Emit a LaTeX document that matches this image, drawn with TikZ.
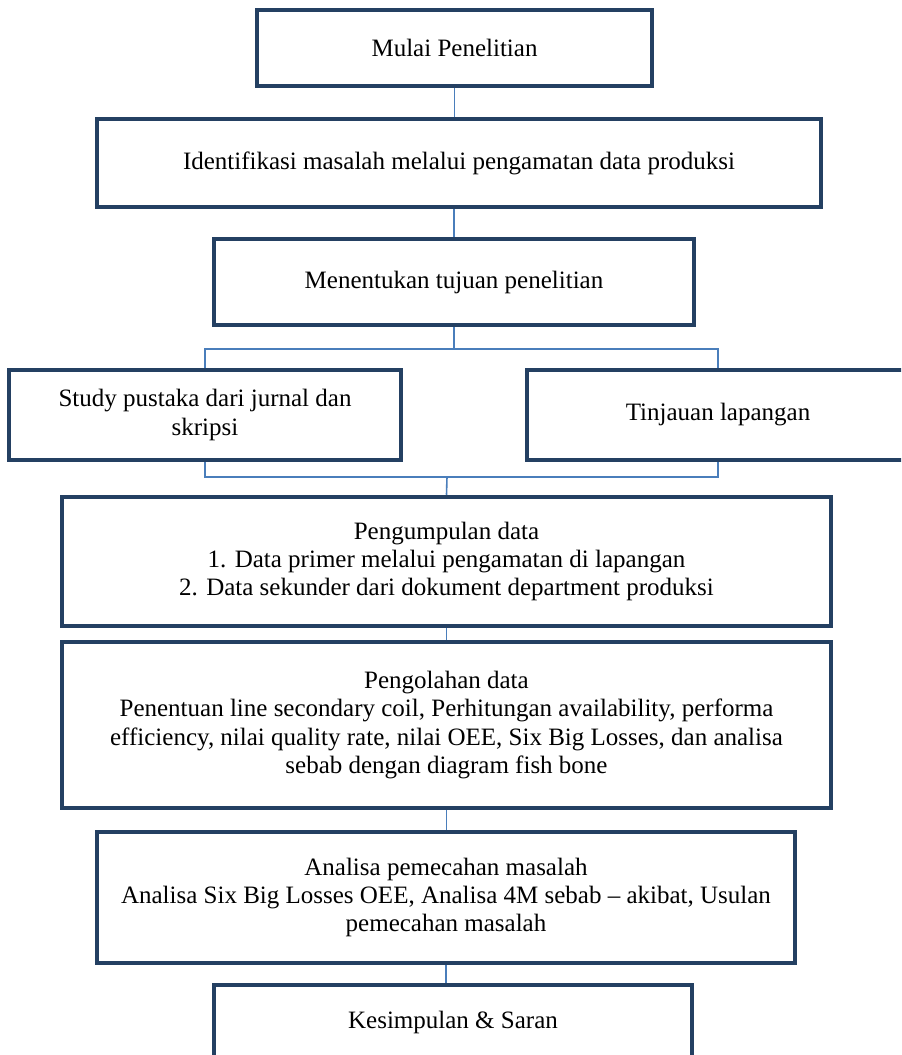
\documentclass[tikz,border=0pt]{standalone}
\usepackage{fontspec}
\setmainfont{Liberation Serif}
\usetikzlibrary{positioning}
\definecolor{boxline}{RGB}{36,64,98}
\definecolor{linkline}{RGB}{74,126,187}

\begin{document}
\begin{tikzpicture}[x=0.5pt,y=-0.5pt,
  main box/.style={rectangle,draw=boxline,line width=2.25pt,fill=white,align=center,
    inner sep=2pt,font=\fontsize{12.5pt}{14.2pt}\selectfont},
  link/.style={draw=linkline,line width=0.8pt}]
  \clip (0,0) rectangle (901,1055);
  \fill[white] (0,0) rectangle (901,1055);
  \node[main box,minimum width=197.5pt,minimum height=38pt] (mulai) at (454.5,48) {Mulai Penelitian};
  \node[main box,minimum width=362pt,minimum height=44pt] (ident) at (459,163) {Identifikasi masalah melalui pengamatan data produksi};
  \node[main box,minimum width=240pt,minimum height=43pt] (tujuan) at (454,282) {Menentukan tujuan penelitian};
  \node[main box,minimum width=196pt,minimum height=45pt] (study) at (205,415) {Study pustaka dari jurnal dan\\skripsi};
  \node[main box,minimum width=191pt,minimum height=45pt] (tinjau) at (718,415) {Tinjauan lapangan};
  \node[main box,minimum width=384.5pt,minimum height=64.5pt] (kumpul) at (446.5,561.5) {Pengumpulan data\\1. Data primer melalui pengamatan di lapangan\\2. Data sekunder dari dokument department produksi};
  \node[main box,minimum width=384.5pt,minimum height=83pt] (olah) at (446.5,725) {Pengolahan data\\Penentuan line secondary coil, Perhitungan availability, performa\\efficiency, nilai quality rate, nilai OEE, Six Big Losses, dan analisa\\sebab dengan diagram fish bone};
  \node[main box,minimum width=349pt,minimum height=65.5pt] (analisa) at (446,897.5) {Analisa pemecahan masalah\\Analisa Six Big Losses OEE, Analisa 4M sebab -- akibat, Usulan\\pemecahan masalah};
  \node[main box,minimum width=239pt,minimum height=37pt] (simpul) at (453,1022) {Kesimpulan \& Saran};
  \coordinate (split) at (454,349);
  \coordinate (merge) at (447,477);
  % connectors
  \draw[link] (mulai.south) -- (mulai.south |- ident.north);
  \draw[link] (tujuan.north |- ident.south) -- (tujuan.north);
  \draw[link] (tujuan.south) -- (split);
  \draw[link] (study.north) |- (split) -| (tinjau.north);
  \draw[link] (study.south) |- (merge) -| (tinjau.south);
  \draw[link] (merge) -- (kumpul.north);
  \draw[link] (kumpul.south) -- (kumpul.south |- olah.north);
  \draw[link] (olah.south) -- (olah.south |- analisa.north);
  \draw[link] (analisa.south) -- (analisa.south |- simpul.north);
\end{tikzpicture}
\end{document}
